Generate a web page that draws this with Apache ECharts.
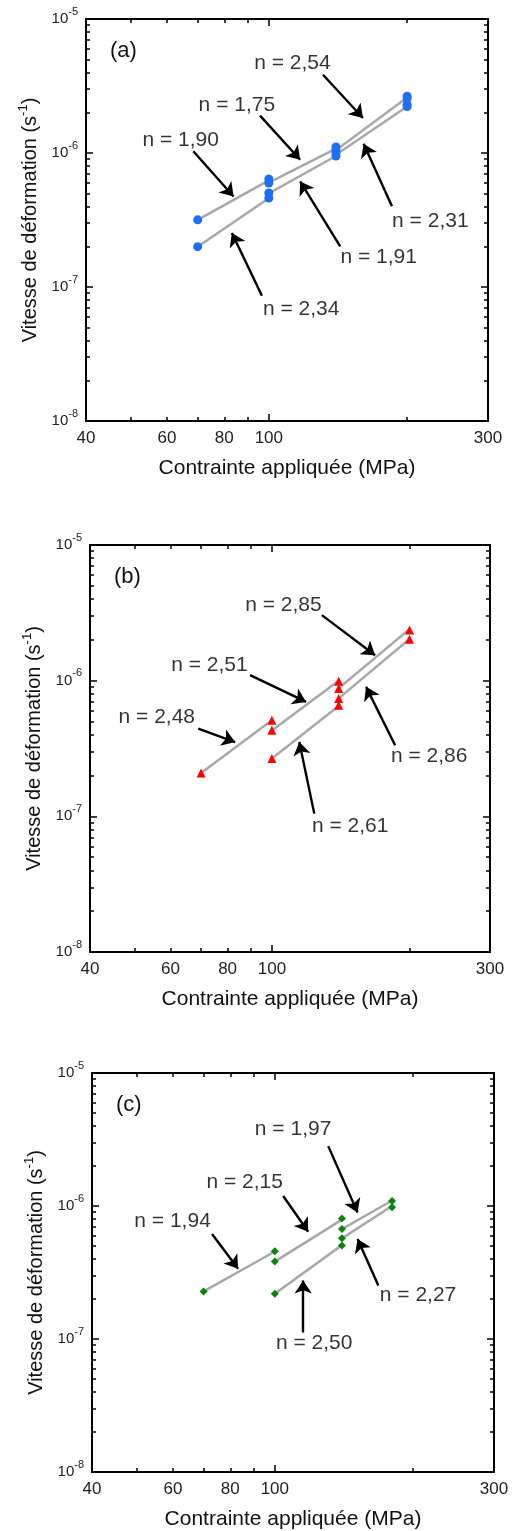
<!DOCTYPE html>
<html><head><meta charset="utf-8">
<script src="https://cdn.jsdelivr.net/npm/echarts@6/dist/echarts.min.js"></script>
<style>html,body{margin:0;padding:0;background:#fff}#c{width:512px;height:1531px}</style>
</head><body><div id="c"></div>
<script>
// ---- axis ticks / labels ----
const xLabelValues = [40, 60, 80, 100, 300];
const xMinorTickValues = [50, 60, 70, 80, 90, 200];
const xMajorTickValues = [100];
const yMajorValues = [1e-8, 1e-7, 1e-6, 1e-5];
const yMinorValues = [2e-8, 3e-8, 4e-8, 5e-8, 6e-8, 7e-8, 8e-8, 9e-8,
                      2e-7, 3e-7, 4e-7, 5e-7, 6e-7, 7e-7, 8e-7, 9e-7,
                      2e-6, 3e-6, 4e-6, 5e-6, 6e-6, 7e-6, 8e-6, 9e-6];
const xTitle = 'Contrainte appliquée (MPa)';
const panelLabels = ['(a)', '(b)', '(c)'];

// ---- panel (a) ----
const pointsA = [[70,3.17e-7],[70,2.0e-7],[100,6.4e-7],[100,5.97e-7],[100,5.03e-7],[100,4.61e-7],
                 [140,1.11e-6],[140,1.05e-6],[140,1.0e-6],[140,9.5e-7],
                 [200,2.65e-6],[200,2.55e-6],[200,2.3e-6],[200,2.22e-6]];
const fitsA = [[[70,3.17e-7],[100,6.25e-7]], [[100,6.0e-7],[140,1.08e-6]], [[140,1.05e-6],[200,2.6e-6]],
               [[70,2.0e-7],[100,4.6e-7]], [[100,5.0e-7],[140,9.5e-7]], [[140,9.7e-7],[200,2.22e-6]]];
const labelsA = ['n = 1,90','n = 1,75','n = 2,54','n = 2,34','n = 1,91','n = 2,31'];
const textPosA = [[64.3,1.24e-6],[85.2,2.29e-6],[112.6,4.70e-6],[117.6,6.85e-8],[173.4,1.67e-7],[224.7,3.09e-7]];
const arrowsA = [[[68.5,1.03e-6],[83.8,4.74e-7]], [[95.7,1.9e-6],[117,8.91e-7]], [[131.2,3.84e-6],[160.3,1.825e-6]],
                 [[96.6,8.61e-8],[83.1,2.53e-7]], [[143,2.01e-7],[117,6.14e-7]], [[185.4,4.0e-7],[160.8,1.17e-6]]];

// ---- panel (b) ----
const pointsB = [[70,2.09e-7],[100,5.11e-7],[100,4.31e-7],[100,2.67e-7],
                 [140,9.9e-7],[140,8.76e-7],[140,7.4e-7],[140,6.6e-7],[200,2.36e-6],[200,2.02e-6]];
const fitsB = [[[70,2.09e-7],[100,5.1e-7]], [[100,4.3e-7],[140,1.0e-6]], [[140,8.8e-7],[200,2.4e-6]],
               [[100,2.67e-7],[140,6.5e-7]], [[140,7.4e-7],[200,2.03e-6]]];
const labelsB = ['n = 2,48','n = 2,51','n = 2,85','n = 2,61','n = 2,86'];
const textPosB = [[56,5.41e-7],[73,1.30e-6],[106,3.61e-6],[148.3,8.44e-8],[220.8,2.77e-7]];
const arrowsB = [[[69,4.44e-7],[83.1,3.53e-7]], [[89.6,1.098e-6],[118.8,6.97e-7]], [[128.6,3.04e-6],[168.2,1.54e-6]],
                 [[123.8,1.047e-7],[114.8,3.53e-7]], [[186,3.34e-7],[160.7,9.0e-7]]];

// ---- panel (c) ----
const pointsC = [[70,2.28e-7],[100,4.57e-7],[100,3.82e-7],[100,2.19e-7],
                 [140,8.07e-7],[140,6.71e-7],[140,5.71e-7],[140,5.04e-7],[180,1.09e-6],[180,9.77e-7]];
const fitsC = [[[70,2.28e-7],[100,4.55e-7]], [[100,3.82e-7],[140,7.9e-7]], [[140,6.71e-7],[180,1.1e-6]],
               [[100,2.19e-7],[140,5.08e-7]], [[140,5.71e-7],[180,1.0e-6]]];
const labelsC = ['n = 1,94','n = 2,15','n = 1,97','n = 2,50','n = 2,27'];
const textPosC = [[59.9,7.75e-7],[86,1.50e-6],[109.6,3.76e-6],[121.8,9.25e-8],[205,2.13e-7]];
const arrowsC = [[[73,6.16e-7],[83.2,3.37e-7]], [[104.3,1.19e-6],[118.2,6.41e-7]], [[130.7,2.82e-6],[151.4,8.95e-7]],
                 [[115.3,1.12e-7],[115.3,2.75e-7]], [[168,2.53e-7],[151.4,5.65e-7]]];

// ---- layout / style ----
const FONT = 'Liberation Sans';
const gridBoxes = [
  {left: 86, top: 19, width: 402, height: 402},
  {left: 90, top: 545, width: 400, height: 407},
  {left: 92, top: 1073, width: 402, height: 401}
];
const panelStyles = [
  {symbol: 'circle', size: 9, color: '#1f6ef5'},
  {symbol: 'triangle', size: 9, color: '#ff0000'},
  {symbol: 'diamond', size: 8, color: '#0b800b'}
];
const panels = [
  {pts: pointsA, fits: fitsA, labels: labelsA, textPos: textPosA, arrows: arrowsA},
  {pts: pointsB, fits: fitsB, labels: labelsB, textPos: textPosB, arrows: arrowsB},
  {pts: pointsC, fits: fitsC, labels: labelsC, textPos: textPosC, arrows: arrowsC}
];

const chart = echarts.init(document.getElementById('c'), null, {renderer: 'canvas'});
const option = {animation: false, backgroundColor: '#fff', textStyle: {fontFamily: FONT},
  title: [], grid: [], xAxis: [], yAxis: [], series: []};

const tickStyle = {color: '#000', width: 1.5};
const lineStyleAxis = {color: '#000', width: 2};

panels.forEach((p, g) => {
  const box = gridBoxes[g];
  option.grid.push(Object.assign({containLabel: false}, box));
  option.title.push({text: panelLabels[g], left: box.left + 19, top: box.top + 16,
    textStyle: {fontSize: 22, fontWeight: 'normal', color: '#111', fontFamily: FONT}});
  const xBase = {type: 'log', logBase: 10, min: 40, max: 300, gridIndex: g, splitLine: {show: false},
    axisLine: {show: true, onZero: false, lineStyle: lineStyleAxis}};
  const yBase = {type: 'log', logBase: 10, min: 1e-8, max: 1e-5, gridIndex: g, splitLine: {show: false},
    axisLine: {show: true, onZero: false, lineStyle: lineStyleAxis}};
  // x axes
  option.xAxis.push(Object.assign({}, xBase, {position: 'bottom',
    axisTick: {show: true, inside: true, length: 4, customValues: xMinorTickValues, lineStyle: tickStyle},
    axisLabel: {show: true, customValues: xLabelValues, fontSize: 17, color: '#222', margin: 9, fontFamily: FONT,
      formatter: v => String(Math.round(v))},
    name: xTitle, nameLocation: 'middle', nameGap: 37,
    nameTextStyle: {fontSize: 21, color: '#111', fontFamily: FONT}}));
  option.xAxis.push(Object.assign({}, xBase, {position: 'bottom',
    axisTick: {show: true, inside: true, length: 7, customValues: xMajorTickValues, lineStyle: tickStyle},
    axisLabel: {show: false}}));
  option.xAxis.push(Object.assign({}, xBase, {position: 'top',
    axisTick: {show: true, inside: true, length: 4, customValues: xMinorTickValues, lineStyle: tickStyle},
    axisLabel: {show: false}}));
  option.xAxis.push(Object.assign({}, xBase, {position: 'top',
    axisTick: {show: true, inside: true, length: 7, customValues: xMajorTickValues, lineStyle: tickStyle},
    axisLabel: {show: false}}));
  // y axes
  option.yAxis.push(Object.assign({}, yBase, {position: 'left',
    axisTick: {show: true, inside: true, length: 7, customValues: yMajorValues, lineStyle: tickStyle},
    axisLabel: {show: true, customValues: yMajorValues, margin: 8, color: '#222', fontFamily: FONT,
      formatter: v => '{b|10}{s|' + Math.round(Math.log10(v)) + '}',
      rich: {b: {fontSize: 15, color: '#222', fontFamily: FONT},
             s: {fontSize: 11, color: '#222', fontFamily: FONT, padding: [0, 0, 15, 0]}}},
    name: '{t|Vitesse de déformation (s}{s|-1}{t|)}', nameLocation: 'middle', nameGap: 39, nameRotate: 90,
    nameTextStyle: {fontFamily: FONT, rich: {
      t: {fontSize: 20, color: '#111', fontFamily: FONT},
      s: {fontSize: 13, color: '#111', fontFamily: FONT, padding: [0, 0, 14, 0]}}}}));
  option.yAxis.push(Object.assign({}, yBase, {position: 'left',
    axisTick: {show: true, inside: true, length: 4, customValues: yMinorValues, lineStyle: tickStyle},
    axisLabel: {show: false}}));
  option.yAxis.push(Object.assign({}, yBase, {position: 'right',
    axisTick: {show: true, inside: true, length: 7, customValues: yMajorValues, lineStyle: tickStyle},
    axisLabel: {show: false}}));
  option.yAxis.push(Object.assign({}, yBase, {position: 'right',
    axisTick: {show: true, inside: true, length: 4, customValues: yMinorValues, lineStyle: tickStyle},
    axisLabel: {show: false}}));

  const xi = 4 * g, yi = 4 * g, st = panelStyles[g];
  option.series.push({type: 'lines', coordinateSystem: 'cartesian2d', xAxisIndex: xi, yAxisIndex: yi,
    data: p.fits.map(c => ({coords: c})), symbol: 'none', silent: true, z: 2,
    lineStyle: {color: '#a8a8a8', width: 2.5, opacity: 1}});
  option.series.push({type: 'scatter', xAxisIndex: xi, yAxisIndex: yi, data: p.pts, z: 4,
    symbol: st.symbol, symbolSize: st.size, itemStyle: {color: st.color, opacity: 1}, silent: true});
  option.series.push({type: 'lines', coordinateSystem: 'cartesian2d', xAxisIndex: xi, yAxisIndex: yi,
    data: p.arrows.map(c => ({coords: c})), symbol: ['none', 'arrow'], symbolSize: [9, 13], silent: true, z: 5,
    lineStyle: {color: '#000', width: 2.4, opacity: 1}});
  option.series.push({type: 'scatter', xAxisIndex: xi, yAxisIndex: yi, z: 6, silent: true,
    data: p.textPos.map((c, i) => ({value: c, name: p.labels[i]})),
    symbolSize: 0, itemStyle: {color: 'rgba(0,0,0,0)'},
    label: {show: true, position: 'inside', formatter: '{b}', fontSize: 21, color: '#000', fontFamily: FONT}});
});

chart.setOption(option);
</script></body></html>
